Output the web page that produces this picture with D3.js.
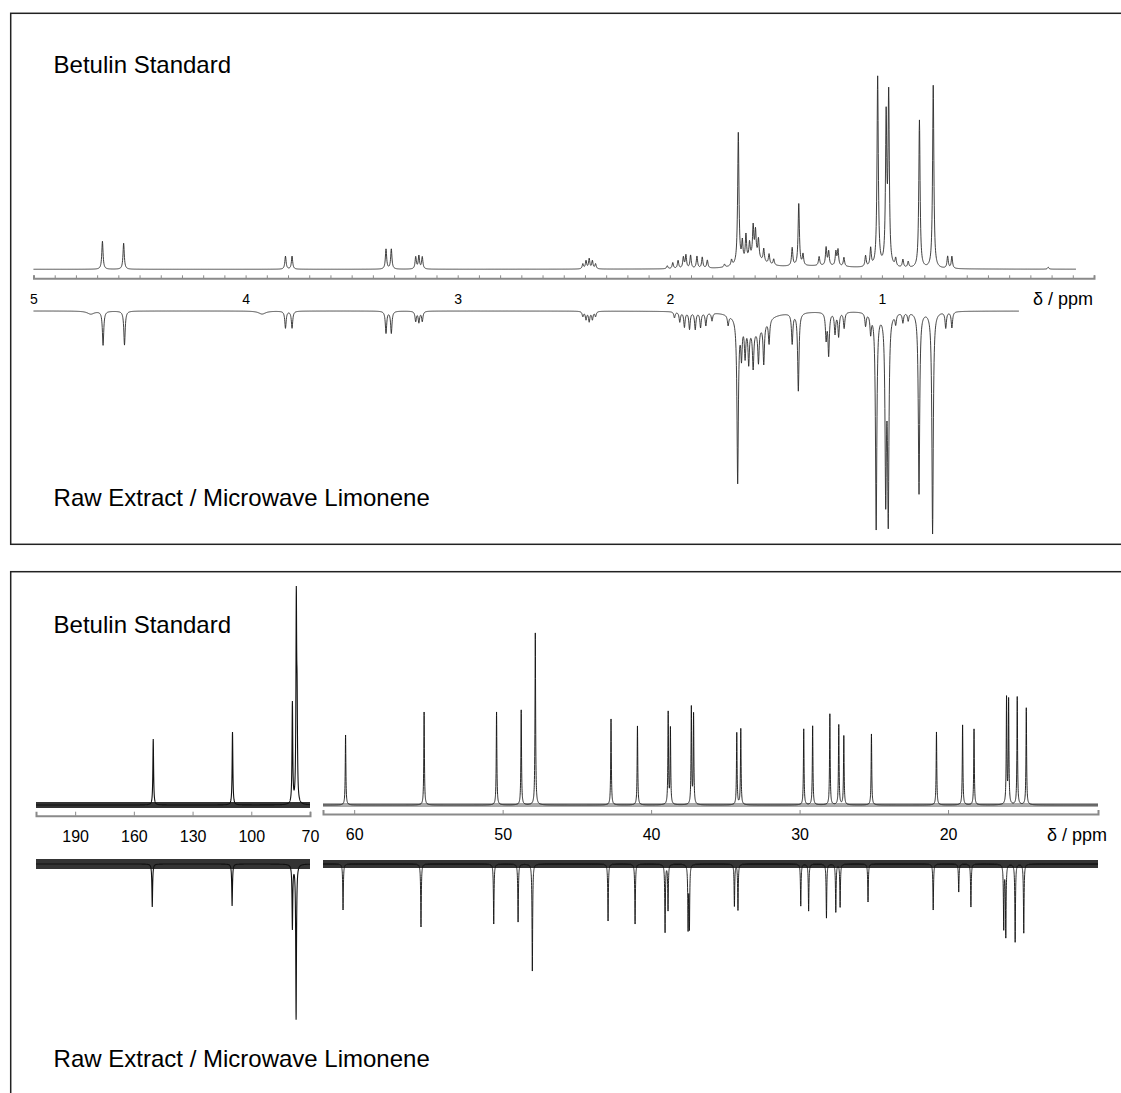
<!DOCTYPE html>
<html>
<head>
<meta charset="utf-8">
<script src="https://cdn.jsdelivr.net/npm/d3@7"></script>
<style>
  body { margin: 0; background: #fff; }
  svg { display: block; font-family: "Liberation Sans", Arial, Helvetica, sans-serif; }
  .axis path, .axis line { stroke: #8a8a8a; }
  .axis text { fill: #000; }
</style>
</head>
<body>
<div id="chart"></div>
<script>

// 1H peak lists: [ppm, height] (height in px above / below the baseline), optional third = half width
var betulinH = [
  [4.675, 28], [4.575, 26],
  [3.812, 13], [3.781, 13],
  [3.338, 20], [3.313, 20],
  [3.198, 12], [3.183, 13], [3.167, 12],
  [2.41, 5], [2.395, 8], [2.38, 10], [2.365, 8], [2.35, 5],
  [2.012, 3], [1.986, 6], [1.961, 8], [1.936, 11], [1.924, 13], [1.902, 13], [1.872, 12], [1.847, 11], [1.823, 8],
  [1.742, 3], [1.709, 6],
  [1.677, 132],
  [1.658, 20], [1.641, 26], [1.624, 16], [1.607, 31], [1.596, 26], [1.582, 19], [1.557, 13], [1.532, 10], [1.51, 6],
  [1.60, 10, 0.05], [1.30, 3, 0.2],
  [1.423, 18], [1.392, 62], [1.372, 11],
  [1.296, 9], [1.263, 18], [1.251, 14], [1.217, 14], [1.207, 16], [1.179, 9],
  [1.077, 11], [1.053, 18],
  [1.020, 190], [0.980, 146], [0.968, 168],
  [0.935, 8], [0.901, 8], [0.876, 6],
  [0.823, 148], [0.758, 183],
  [0.690, 12], [0.670, 12],
  [0.216, 2]
];

var rawH = [
  [4.73, 3, 0.02], [4.672, 34], [4.571, 34],
  [3.922, 3, 0.02],
  [3.812, 17], [3.781, 17],
  [3.338, 22], [3.313, 22],
  [3.198, 10], [3.183, 11], [3.167, 10],
  [2.41, 5], [2.395, 8], [2.38, 10], [2.365, 8], [2.35, 5],
  [1.978, 6], [1.953, 10], [1.931, 15], [1.907, 17], [1.880, 17], [1.855, 15], [1.830, 13], [1.801, 8], [1.725, 10],
  [1.680, 164],
  [1.662, 34], [1.645, 32], [1.628, 36], [1.607, 38], [1.582, 34], [1.557, 40], [1.532, 24],
  [1.60, 18, 0.06],
  [1.423, 30], [1.394, 78],
  [1.263, 26], [1.251, 42], [1.221, 21], [1.204, 24], [1.178, 16],
  [1.077, 13], [1.053, 19],
  [1.027, 216], [0.982, 178], [0.970, 200],
  [0.935, 10], [0.901, 10], [0.876, 8],
  [0.825, 182], [0.761, 222],
  [0.699, 16], [0.670, 16]
];

// 13C peak lists: [ppm, height]
var betulinC = [
  [150.1, 66], [109.6, 73], [79.0, 101], [77.0, 198], [76.6, 85],
  [60.58, 70], [55.29, 93], [50.41, 93], [48.75, 95], [47.8, 172],
  [42.7, 86], [40.92, 79], [38.85, 92], [38.7, 76], [37.29, 97], [37.14, 90],
  [34.23, 72], [33.96, 76], [29.72, 76], [29.12, 79], [27.96, 91], [27.36, 80], [27.02, 69],
  [25.16, 71], [20.78, 73], [19.02, 80], [18.25, 76],
  [16.06, 106], [15.92, 104], [15.34, 108], [14.73, 97]
];

var rawC = [
  [150.6, 43], [109.8, 42], [79.0, 64], [77.1, 155],
  [60.75, 46], [55.5, 63], [50.6, 60], [48.96, 58], [48.0, 107],
  [42.9, 57], [41.08, 60], [39.06, 68], [38.86, 46], [37.51, 63], [37.42, 62],
  [34.39, 42], [34.15, 46], [29.92, 42], [29.39, 47], [28.19, 54], [27.56, 48], [27.27, 43],
  [25.39, 38], [21.0, 46], [19.28, 28], [18.46, 43],
  [16.25, 64], [16.11, 72], [15.48, 78], [14.9, 69]
];

// tick labels
var hLabels = [5, 4, 3, 2, 1];
var cLabelsLeft = [190, 160, 130, 100, 70];
var cLabelsRight = [60, 50, 40, 30, 20];

var W = 1121, H = 1093;

var svg = d3.select('#chart')
  .append('svg')
  .attr('width', W)
  .attr('height', H);

svg.append('rect').attr('width', W).attr('height', H).attr('fill', '#fff');

// frames (right / bottom edges run off the page)
svg.append('rect')
  .attr('x', 10.7).attr('y', 13.3)
  .attr('width', 1200).attr('height', 531)
  .attr('fill', 'none').attr('stroke', '#222').attr('stroke-width', 1.5);

svg.append('rect')
  .attr('x', 10.7).attr('y', 571.7)
  .attr('width', 1200).attr('height', 600)
  .attr('fill', 'none').attr('stroke', '#222').attr('stroke-width', 1.5);

// sum of lorentzians sampled on a grid (peak centres added so the tops are hit)
function lineshape(peaks, from, to, step, hw) {
  var grid = d3.range(to, from + step / 2, step);
  peaks.forEach(function(pk) { if (pk[0] <= from && pk[0] >= to) grid.push(pk[0]); });
  grid.sort(function(a, b) { return b - a; });
  return grid.map(function(p) {
    var s = 0;
    peaks.forEach(function(pk) {
      var w = pk[2] || hw;
      var dx = (p - pk[0]) / w;
      s += pk[1] / (1 + dx * dx);
    });
    return [p, s];
  });
}

// ---------- 1H panel ----------
var xH = d3.scaleLinear().domain([5, 0]).range([33.5, 1094]);
var yHtop = d3.scaleLinear().domain([0, 200]).range([269.3, 69.3]);
var yHbot = d3.scaleLinear().domain([0, 200]).range([311, 511]);

var lineHtop = d3.line().x(function(d) { return xH(d[0]); }).y(function(d) { return yHtop(d[1]); });
var lineHbot = d3.line().x(function(d) { return xH(d[0]); }).y(function(d) { return yHbot(d[1]); });

svg.append('path')
  .datum(lineshape(betulinH, 5, 0.085, 0.001, 0.0036))
  .attr('d', lineHtop)
  .attr('fill', 'none').attr('stroke', '#2a2a2a').attr('stroke-width', 0.9);

svg.append('path')
  .datum(lineshape(rawH, 5, 0.354, 0.001, 0.0038))
  .attr('d', lineHbot)
  .attr('fill', 'none').attr('stroke', '#2a2a2a').attr('stroke-width', 0.9);

var axisH = d3.axisBottom(xH)
  .tickValues(d3.range(0, 51).map(function(i) { return i / 10; }))
  .tickSizeInner(-3)
  .tickSizeOuter(-3)
  .tickPadding(16)
  .tickFormat(function(d) { return hLabels.indexOf(d) >= 0 ? d : ''; });

svg.append('g')
  .attr('class', 'axis')
  .attr('transform', 'translate(0,278.3)')
  .call(axisH)
  .call(function(g) {
    g.select('.domain').attr('stroke-width', 2);
    g.selectAll('.tick line').attr('stroke-width', 1);
    g.selectAll('text').style('font-size', '14px').style('font-family', 'Liberation Sans, Arial, sans-serif');
  });

svg.append('text')
  .attr('x', 1033).attr('y', 305)
  .attr('font-size', 18)
  .text('δ / ppm');

svg.append('text')
  .attr('x', 53.6).attr('y', 72.7)
  .attr('font-size', 24)
  .text('Betulin Standard');

svg.append('text')
  .attr('x', 53.6).attr('y', 506)
  .attr('font-size', 24)
  .text('Raw Extract / Microwave Limonene');

// ---------- 13C panel (broken axis) ----------
var xCL = d3.scaleLinear().domain([210, 70]).range([36, 310]);
var xCR = d3.scaleLinear().domain([62.1, 9.9]).range([323, 1098]);
var yCtop = d3.scaleLinear().domain([0, 200]).range([805, 605]);
var yCbot = d3.scaleLinear().domain([0, 200]).range([864, 1064]);

function drawC(x, y, peaks, from, to, step, hw, band, bandColor, bandOpacity, lw) {
  var flat = d3.line().x(function(d) { return x(d); }).y(function() { return y(0); });
  // noise floor shown as a band
  svg.append('path')
    .datum([from, to])
    .attr('d', flat)
    .attr('fill', 'none')
    .attr('stroke', bandColor)
    .attr('stroke-opacity', bandOpacity)
    .attr('stroke-width', band);

  var line = d3.line().x(function(d) { return x(d[0]); }).y(function(d) { return y(d[1]); });
  svg.append('path')
    .datum(lineshape(peaks.filter(function(p) { return p[0] <= from + 1 && p[0] >= to - 1; }), from, to, step, hw))
    .attr('d', line)
    .attr('fill', 'none')
    .attr('stroke', '#111')
    .attr('stroke-width', lw);
}

drawC(xCL, yCtop, betulinC, 210, 70, 0.05, 0.22, 6, '#111', 0.85, 1.1);
drawC(xCR, yCtop, betulinC, 62.1, 9.9, 0.005, 0.025, 4, '#555', 0.5, 0.9);
drawC(xCL, yCbot, rawC, 210, 70, 0.05, 0.22, 10, '#111', 0.85, 1.1);
drawC(xCR, yCbot, rawC, 62.1, 9.9, 0.005, 0.025, 8, '#111', 0.85, 0.9);

function cAxis(x, y, labels) {
  svg.append('g')
    .attr('class', 'axis')
    .attr('transform', 'translate(0,' + y + ')')
    .call(d3.axisBottom(x)
      .tickValues(labels)
      .tickSizeInner(-4)
      .tickSizeOuter(-4)
      .tickPadding(14.8))
    .call(function(g) {
      g.select('.domain').attr('stroke-width', 2);
      g.selectAll('text').style('font-size', '16px').style('font-family', 'Liberation Sans, Arial, sans-serif');
    });
}

cAxis(xCL, 815.7, cLabelsLeft);
cAxis(xCR, 814, cLabelsRight);

svg.append('text')
  .attr('x', 1047).attr('y', 841)
  .attr('font-size', 18)
  .text('δ / ppm');

svg.append('text')
  .attr('x', 53.6).attr('y', 632.7)
  .attr('font-size', 24)
  .text('Betulin Standard');

svg.append('text')
  .attr('x', 53.6).attr('y', 1067)
  .attr('font-size', 24)
  .text('Raw Extract / Microwave Limonene');

</script>
</body>
</html>
